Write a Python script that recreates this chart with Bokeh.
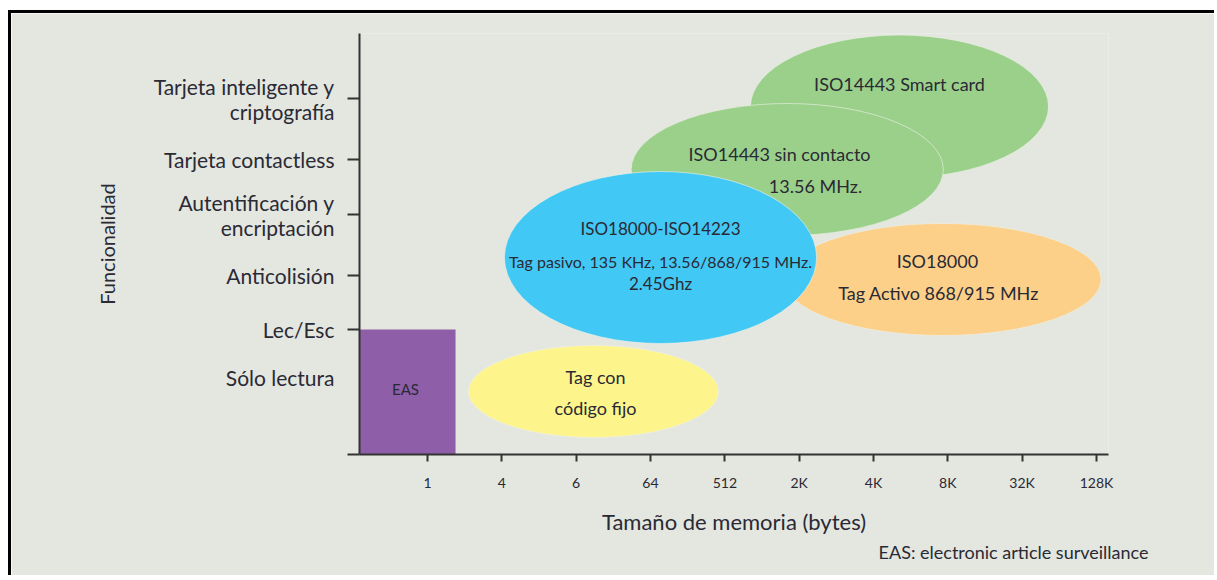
from bokeh.plotting import figure
from bokeh.models import FixedTicker, Range1d, ColumnDataSource, Title
from bokeh.core.properties import value
from bokeh.embed import file_html
from bokeh.resources import INLINE

# ---------------- data ----------------
mem_labels = ["1", "4", "6", "64", "512", "2K", "4K", "8K", "32K", "128K"]
mem_pos = [1, 2, 3, 4, 5, 6, 7, 8, 9, 10]

func_labels = ["Sólo lectura", "Lec/Esc", "Anticolisión", "Autentificación y\nencriptación",
               "Tarjeta contactless", "Tarjeta inteligente y\ncriptografía"]
func_pos = [77, 125, 179, 240, 295, 356]
func_marks = [0, 125, 179, 240, 295, 356]

# technology regions (ellipses): center x (memory index), center y (functionality), width, height
tech_names = ["ISO18000 activo", "ISO14443 Smart card", "ISO14443 sin contacto",
              "ISO18000-ISO14223", "Tag con código fijo"]
tech_x = [7.93, 7.35, 5.84, 4.135, 3.233]
tech_y = [175, 348, 285, 197, 63]
tech_w = [4.265, 4.01, 4.20, 4.20, 3.363]
tech_h = [112, 143, 132, 172, 92]
tech_colors = ["#fdd089", "#9bd08b", "#9bd08b", "#42c8f4", "#fdf58b"]

# EAS block
eas_left, eas_right = 0.085, 1.377
eas_bottom, eas_top = 0, 125

# texts inside regions
txt = ["ISO14443 Smart card", "ISO14443 sin contacto", "13.56 MHz.",
       "ISO18000-ISO14223", "Tag pasivo, 135 KHz, 13.56/868/915 MHz.", "2.45Ghz",
       "ISO18000", "Tag Activo 868/915 MHz", "Tag con", "código fijo", "EAS"]
txt_x = [7.35, 5.736, 6.22, 4.135, 4.135, 4.135, 7.861, 7.875, 3.26, 3.26, 0.704]
txt_y = [371, 301, 269, 226, 193, 171, 194, 162, 78, 47, 66]
txt_size = ["18px", "18px", "18px", "17px", "16px", "17px", "18px", "18px",
            "18px", "18px", "15px"]

BG = "#e4e6e0"
INK = "#2a2a35"
FONT = "Lato"

p = figure(width=1206, height=565,
           x_range=Range1d(0.085, 10.162), y_range=Range1d(0, 421),
           output_backend="svg", toolbar_location=None,
           min_border_left=348, min_border_right=109,
           min_border_top=20, min_border_bottom=124,
           background_fill_color=BG, border_fill_color=BG,
           outline_line_color=None)
p.styles = {"border-top": "3px solid black", "border-left": "3px solid black",
            "margin-top": "10px", "margin-left": "8px"}
p.xgrid.visible = False
p.ygrid.visible = False

# EAS rectangle
p.quad(left=[eas_left], right=[eas_right], bottom=[eas_bottom], top=[eas_top],
       fill_color="#8f5ea8", line_color=None)

src = ColumnDataSource(dict(x=tech_x, y=tech_y, w=tech_w, h=tech_h, c=tech_colors))
p.ellipse(x="x", y="y", width="w", height="h", source=src,
          fill_color="c", line_color="#eef1ea", line_width=1, line_alpha=0.6)

tsrc = ColumnDataSource(dict(x=txt_x, y=txt_y, t=txt, s=txt_size))
p.text(x="x", y="y", text="t", source=tsrc, text_font=value(FONT),
       text_font_size="s", text_align="center", text_baseline="middle",
       text_color=INK)

# axes
for ax in (p.xaxis[0], p.yaxis[0]):
    ax.axis_line_color = "#333333"
    ax.axis_line_width = 2
    ax.major_tick_line_color = "#333333"
    ax.major_tick_line_width = 2
    ax.minor_tick_line_color = None
    ax.major_tick_in = 0
    ax.major_label_text_font = FONT
    ax.major_label_text_color = INK
    ax.axis_label_text_font = FONT
    ax.axis_label_text_font_style = "normal"
    ax.axis_label_text_color = INK

xa = p.xaxis[0]
xa.ticker = FixedTicker(ticks=mem_pos, minor_ticks=[])
xa.major_label_overrides = {k: v for k, v in zip(mem_pos, mem_labels)}
xa.major_tick_out = 7
xa.major_label_standoff = 12
xa.major_label_text_font_size = "14px"
xa.axis_label = "Tamaño de memoria (bytes)"
xa.axis_label_text_font_size = "22px"
xa.axis_label_standoff = 14

ya = p.yaxis[0]
ya.ticker = FixedTicker(ticks=func_pos, minor_ticks=func_marks)
ya.major_label_overrides = {k: v for k, v in zip(func_pos, func_labels)}
ya.major_tick_line_color = None
ya.major_tick_out = 12
ya.minor_tick_line_color = "#333333"
ya.minor_tick_line_width = 2
ya.minor_tick_out = 12
ya.minor_tick_in = 0
ya.major_label_standoff = 13
ya.major_label_text_font_size = "21px"
ya.major_label_text_line_height = 1.0
ya.axis_label = "Funcionalidad"
ya.axis_label_text_font_size = "20px"
ya.axis_label_standoff = 32

note = Title(text="EAS: electronic article surveillance", align="right",
             text_font=FONT, text_font_size="18px", text_font_style="normal",
             text_color=INK, offset=-40, standoff=2)
p.add_layout(note, "below")

open("out.html", "w").write(file_html(p, INLINE))
